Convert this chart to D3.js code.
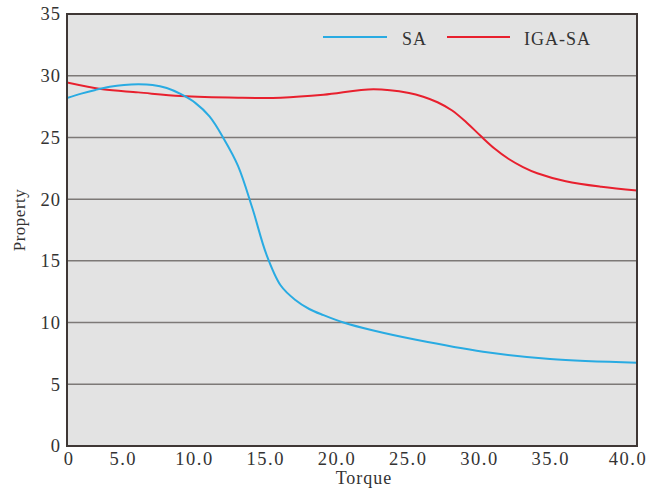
<!DOCTYPE html>
<html>
<head>
<meta charset="utf-8">
<script src="https://cdn.jsdelivr.net/npm/d3@7"></script>
<style>
  html, body { margin: 0; padding: 0; background: #ffffff; }
  svg text { font-family: "Liberation Serif", "Times New Roman", serif; fill: #333333; }
</style>
</head>
<body>
<svg id="chart" width="658" height="491"></svg>
<script>
// ---- data ----
const saTorque  = [0, 1, 2, 3, 4, 5, 6, 7, 8, 9, 10, 11, 12, 13, 14, 15, 16, 17, 18, 19.4, 21.5, 24.5, 29.2, 33.9, 40];
const saValues  = [28.2, 28.55, 28.85, 29.1, 29.25, 29.3, 29.25, 29.0, 28.5, 27.8, 26.7, 24.9, 22.7, 19.3, 15.5, 13.0, 11.85, 11.1, 10.6, 10.0, 9.35, 8.6, 7.64, 7.05, 6.75];
const igaTorque = [0, 2.5, 5, 8, 12, 15, 18, 21.5, 24, 25, 26, 27, 28, 29, 30, 31, 32, 33, 35, 37.5, 40];
const igaValues = [29.45, 28.9, 28.65, 28.35, 28.22, 28.22, 28.45, 28.9, 28.6, 28.3, 27.85, 27.2, 26.25, 25.15, 24.1, 23.25, 22.6, 22.1, 21.45, 21.0, 20.7];
const xTicks = [0, 5, 10, 15, 20, 25, 30, 35, 40];
const xTickLabels = ["0", "5.0", "10.0", "15.0", "20.0", "25.0", "30.0", "35.0", "40.0"];
const yTicks = [0, 5, 10, 15, 20, 25, 30, 35];
const seriesNames = ["SA", "IGA-SA"];
const seriesColors = ["#29abe2", "#e8202e"];

// ---- layout ----
const svg = d3.select("#chart");
const mLeft = 67, mRight = 637, mTop = 14, mBottom = 446;
const x = d3.scaleLinear().domain([0, 40]).range([mLeft, mRight]);
const y = d3.scaleLinear().domain([0, 35]).range([mBottom, mTop]);

// plot background
svg.append("rect")
  .attr("x", mLeft).attr("y", mTop)
  .attr("width", mRight - mLeft).attr("height", mBottom - mTop)
  .attr("fill", "#e3e3e3");

// grid lines
svg.append("g")
  .selectAll("line")
  .data(yTicks.filter(d => d > 0 && d < 35))
  .join("line")
  .attr("x1", mLeft).attr("x2", mRight)
  .attr("y1", d => y(d)).attr("y2", d => y(d))
  .attr("stroke", "#7d7977").attr("stroke-width", 1.5);

// series lines
const line = d3.line().x(d => x(d[0])).y(d => y(d[1])).curve(d3.curveCatmullRom.alpha(0.5));
const saData = saTorque.map((t, i) => [t, saValues[i]]);
const igaData = igaTorque.map((t, i) => [t, igaValues[i]]);
svg.append("clipPath").attr("id", "clip").append("rect")
  .attr("x", mLeft).attr("y", mTop).attr("width", mRight - mLeft).attr("height", mBottom - mTop);
const lines = svg.append("g").attr("clip-path", "url(#clip)");
lines.append("path").datum(igaData)
  .attr("d", line).attr("fill", "none")
  .attr("stroke", seriesColors[1]).attr("stroke-width", 2);
lines.append("path").datum(saData)
  .attr("d", line).attr("fill", "none")
  .attr("stroke", seriesColors[0]).attr("stroke-width", 2);

// frame
svg.append("rect")
  .attr("x", mLeft).attr("y", mTop)
  .attr("width", mRight - mLeft).attr("height", mBottom - mTop)
  .attr("fill", "none").attr("stroke", "#3f3735").attr("stroke-width", 2);

// y tick labels
svg.append("g")
  .selectAll("text")
  .data(yTicks)
  .join("text")
  .attr("x", mLeft - 6)
  .attr("y", d => y(d))
  .attr("dy", "0.35em")
  .attr("text-anchor", "end")
  .attr("font-size", 18.5)
  .attr("letter-spacing", 1)
  .text(d => d);

// x tick labels
svg.append("g")
  .selectAll("text")
  .data(xTicks)
  .join("text")
  .attr("x", d => x(d))
  .attr("dx", (d, i) => i === 0 ? 2 : (i === xTicks.length - 1 ? -9 : -15))
  .attr("y", 465)
  .attr("text-anchor", "middle")
  .attr("font-size", 18.5)
  .attr("letter-spacing", 1.5)
  .text((d, i) => xTickLabels[i]);

// axis titles
svg.append("text")
  .attr("x", 364).attr("y", 484)
  .attr("text-anchor", "middle")
  .attr("font-size", 18)
  .attr("letter-spacing", 1)
  .text("Torque");
svg.append("text")
  .attr("transform", "translate(25,220) rotate(-90)")
  .attr("text-anchor", "middle")
  .attr("font-size", 17)
  .attr("letter-spacing", 0.5)
  .text("Property");

// legend
const legendItems = [
  { name: seriesNames[0], color: seriesColors[0], x1: 323, x2: 387, tx: 402 },
  { name: seriesNames[1], color: seriesColors[1], x1: 447, x2: 510, tx: 524 }
];
const lg = svg.append("g");
legendItems.forEach(it => {
  lg.append("line")
    .attr("x1", it.x1).attr("x2", it.x2)
    .attr("y1", 37).attr("y2", 37)
    .attr("stroke", it.color).attr("stroke-width", 2);
  lg.append("text")
    .attr("x", it.tx).attr("y", 45)
    .attr("font-size", 18)
    .attr("letter-spacing", 1)
    .text(it.name);
});
</script>
</body>
</html>
